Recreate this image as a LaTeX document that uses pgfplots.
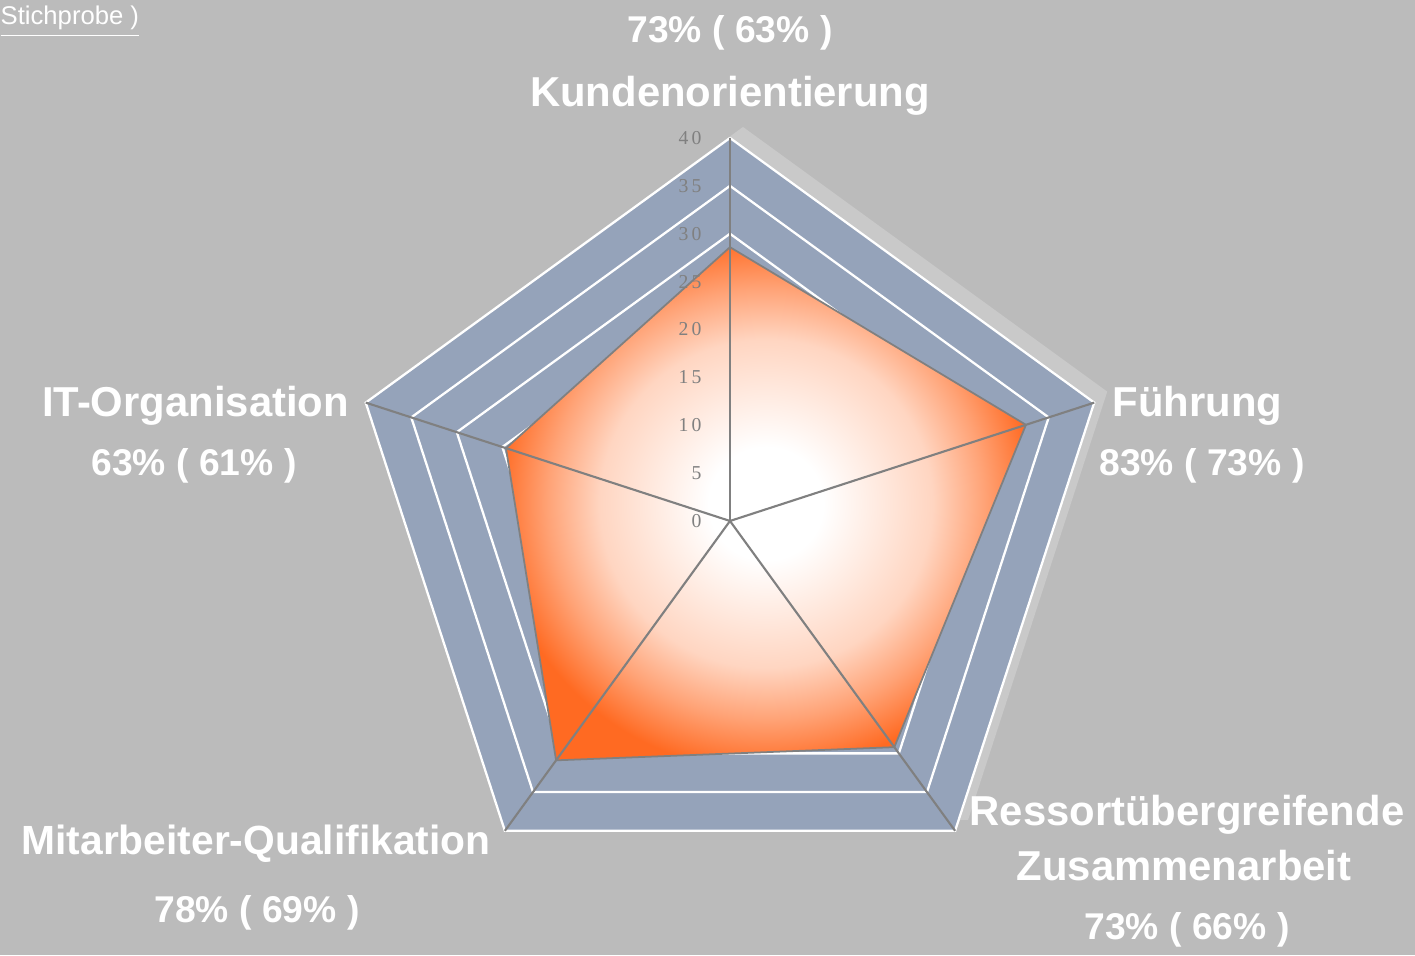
\documentclass[border=0pt]{standalone}
\usepackage{pgfplots}
\pgfplotsset{compat=1.18}
\usepackage{fontspec}
\setmainfont{Liberation Sans}
\newfontfamily\tickfont[LetterSpace=17]{Liberation Serif}
\definecolor{bg}{RGB}{187,187,187}
\definecolor{band}{RGB}{149,163,186}
\definecolor{shadowc}{RGB}{201,201,201}
\definecolor{org}{RGB}{255,106,34}
\definecolor{spoke}{RGB}{128,128,128}
\colorlet{orgA}{org!28!white}
\colorlet{orgB}{org!62!white}
\pgfdeclareradialshading{orangepath}{\pgfpoint{0bp}{0bp}}{color(0bp)=(white); color(5.5bp)=(white); color(16bp)=(orgA); color(21bp)=(orgB); color(26bp)=(org); color(100bp)=(org)}
\tikzset{lbl/.style={font=\bfseries\fontsize{11.9}{14}\selectfont, text=white, anchor=base, inner sep=0pt},
  pct/.style={font=\bfseries\fontsize{10.6}{12}\selectfont, text=white, anchor=base, inner sep=0pt}}
\begin{document}
\begin{tikzpicture}
\fill[bg] (0,0) rectangle (14.15cm,9.55cm);
\begin{axis}[
  scale only axis, width=14.15cm, height=9.55cm,
  xmin=-76.24, xmax=71.54, ymin=-45.33, ymax=54.41,
  hide axis, clip=false,
]
% shadow
\addplot[fill=shadowc, draw=none, data cs=polar, xshift=0.13cm, yshift=0.11cm]
  coordinates {(90,40) (18,40) (-54,40) (-126,40) (162,40) (90,40)};
% blue area
\addplot[fill=band, draw=none, data cs=polar]
  coordinates {(90,40) (18,40) (-54,40) (-126,40) (162,40) (90,40)};
% grid rings
\pgfplotsinvokeforeach{5,10,15,20,25,30,35,40}{
  \addplot[white, line width=0.65pt, data cs=polar]
    coordinates {(90,#1) (18,#1) (-54,#1) (-126,#1) (162,#1) (90,#1)};
}
% data
\addplot[shade, shading=orangepath, draw=spoke, line width=0.5pt, data cs=polar]
  coordinates {(90,28.6) (18,32.5) (-54,29.2) (-126,30.9) (162,24.6) (90,28.6)};
% spokes
\pgfplotsinvokeforeach{90,18,-54,-126,162}{
  \addplot[spoke, line width=0.6pt, data cs=polar] coordinates {(#1,0) (#1,40)};
}
% scale labels
\pgfplotsinvokeforeach{0,5,10,15,20,25,30,35,40}{
  \node[font=\tickfont\fontsize{5.6}{6}\selectfont, text=spoke, anchor=east, inner sep=0pt] at (axis cs:-2.9,#1) {#1};
}
% labels
\node[pct] at (axis cs:0,49.97) {73\% ( 63\% )};
\node[lbl] at (axis cs:0,43.24) {Kundenorientierung};
\node[lbl] at (axis cs:48.83,10.86) {Führung};
\node[pct] at (axis cs:49.3,4.80) {83\% ( 73\% )};
\node[lbl] at (axis cs:-55.82,10.86) {IT-Organisation};
\node[pct] at (axis cs:-55.98,4.80) {63\% ( 61\% )};
\node[lbl, font=\bfseries\fontsize{11.6}{14}\selectfont] at (axis cs:-49.5,-34.88) {Mitarbeiter-Qualifikation};
\node[pct] at (axis cs:-49.4,-41.98) {78\% ( 69\% )};
\node[lbl] at (axis cs:47.73,-31.85) {Ressortübergreifende};
\node[lbl] at (axis cs:47.42,-37.60) {Zusammenarbeit};
\node[pct] at (axis cs:47.73,-43.76) {73\% ( 66\% )};
\node[font=\fontsize{7.3}{9}\selectfont, text=white, anchor=base west, inner sep=0pt] at (axis cs:-76.24,51.8) {\underline{Stichprobe )}};
\end{axis}
\pgfresetboundingbox
\path (0,0) rectangle (14.15cm,9.55cm);
\end{tikzpicture}
\end{document}
